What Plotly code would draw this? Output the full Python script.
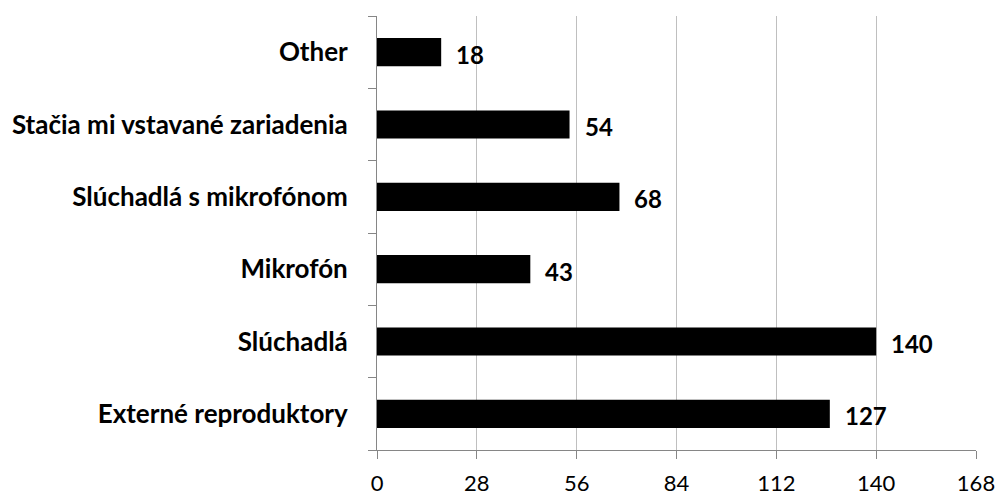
import plotly.graph_objects as go

categories = ["Externé reproduktory", "Slúchadlá", "Mikrofón",
              "Slúchadlá s mikrofónom", "Stačia mi vstavané zariadenia", "Other"]
values = [127, 140, 43, 68, 54, 18]
tick_vals = [0, 28, 56, 84, 112, 140, 168]

FONT = "Lato"

fig = go.Figure()
fig.add_trace(go.Bar(
    x=values, y=categories, orientation="h",
    marker=dict(color="#000000", line=dict(width=0)),
    width=0.39, hoverinfo="x+y",
))

for v, c in zip(values, categories):
    fig.add_annotation(x=v, y=c, text=f"<b>{v}</b>", showarrow=False,
                       xanchor="left", yanchor="middle", xshift=13, yshift=-2,
                       font=dict(family=FONT, size=24, color="#000000"))

fig.update_layout(
    width=996, height=496,
    margin=dict(l=377, r=20, t=16, b=46),
    paper_bgcolor="white", plot_bgcolor="white",
    showlegend=False,
    font=dict(family=FONT, size=22, color="#000000"),
)
fig.update_xaxes(
    range=[0, 168], tickvals=tick_vals, ticktext=[str(t) for t in tick_vals],
    showgrid=True, gridcolor="#bfbfbf", gridwidth=1,
    showline=True, linecolor="#868686", linewidth=1,
    ticks="outside", ticklen=8, tickcolor="#868686",
    ticklabelstandoff=6, ticklabeloverflow="allow",
    tickfont=dict(family=FONT, size=22, color="#000000"),
    zeroline=False, fixedrange=True, automargin=False,
)
fig.update_yaxes(
    categoryorder="array", categoryarray=categories,
    showline=True, linecolor="#868686", linewidth=1,
    ticks="outside", ticklen=8, tickcolor="#868686", tickson="boundaries",
    ticklabelstandoff=23,
    tickfont=dict(family=FONT, size=26, color="#000000", weight="bold"),
    showgrid=False, fixedrange=True, automargin=False,
)

# remove the default 8px page margin so the 996x496 figure fills the window exactly
fig.write_html(
    "out.html",
    config={"displayModeBar": False},
    post_script="document.body.style.margin='0';document.body.style.overflow='hidden';",
)
